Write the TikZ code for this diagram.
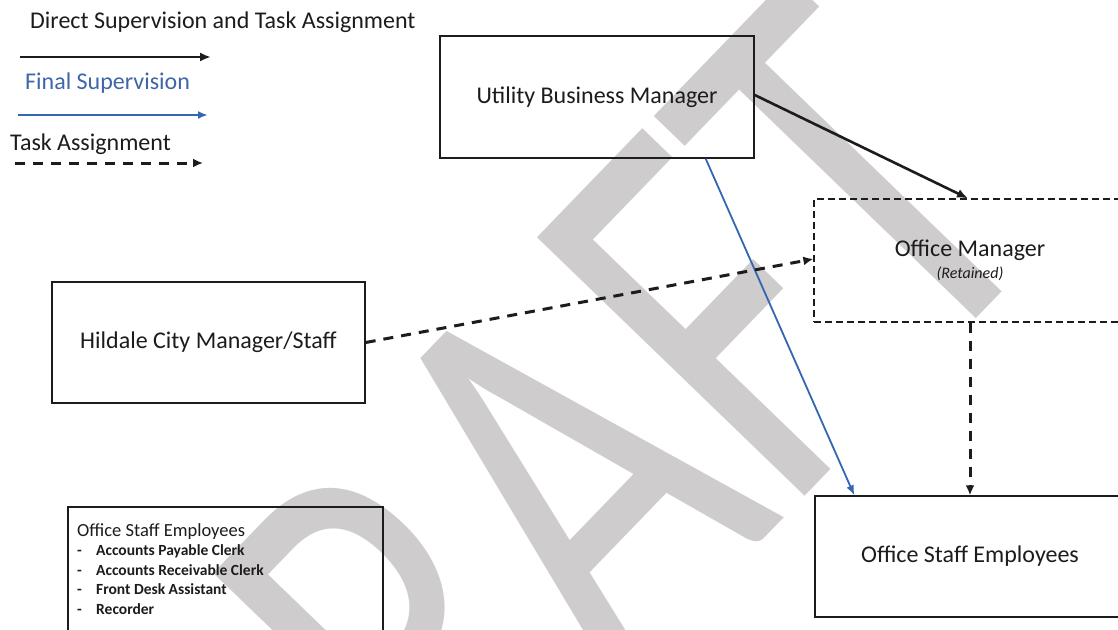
\documentclass[tikz,border=0pt]{standalone}
\usepackage{fontspec}
\setmainfont{Carlito}
\usetikzlibrary{arrows.meta}
\definecolor{ink}{RGB}{28,28,28}
\definecolor{wm}{RGB}{206,204,204}
\definecolor{bl}{RGB}{52,102,178}
\definecolor{bltext}{RGB}{62,102,168}
\begin{document}
\begin{tikzpicture}[x=1pt,y=-1pt,
  box/.style={draw=ink, line width=1.4pt, minimum width=314pt, minimum height=122pt,
    inner sep=0pt, font=\fontsize{24}{29}\selectfont, text=ink, align=center},
  dbox/.style={box, draw=ink, dash pattern=on 7pt off 4pt, line width=1.3pt},
  legtext/.style={anchor=west, inner sep=0pt, font=\fontsize{24}{29}\selectfont, text=ink},
  solidarrow/.style={draw=ink, line width=2.6pt, -{Latex[length=11pt,width=9pt]}},
  bluearrow/.style={draw=bl, line width=1.8pt, -{Latex[length=10pt,width=8pt]}},
  legblue/.style={bluearrow, line width=2.4pt},
  dasharrow/.style={draw=ink, line width=3pt, dash pattern=on 10pt off 8pt, -{Latex[length=10pt,width=9pt]}},
  watermark/.style={rotate=46, anchor=base, inner sep=0pt, text=wm, font=\fontsize{580}{580}\selectfont}]
\useasboundingbox (0,0) rectangle (1118,629);
\fill[white] (0,0) rectangle (1118,629);
% watermark
\node[watermark] (draft) at (671,635) {\scalebox{0.72}[1]{DRAFT}};
% legend
\node[legtext] (lg1) at (30,22) {Direct Supervision and Task Assignment};
\coordinate (l1s) at (20,57); \coordinate (l1e) at (211,57);
\draw[solidarrow] (l1s) -- (l1e);
\node[legtext, text=bltext] (lg2) at (25,83) {Final Supervision};
\coordinate (l2s) at (18,115); \coordinate (l2e) at (208,115);
\draw[legblue] (l2s) -- (l2e);
\node[legtext] (lg3) at (10,144) {Task Assignment};
\coordinate (l3s) at (15,163); \coordinate (l3e) at (203,163);
\draw[dasharrow] (l3s) -- (l3e);
% boxes
\node[box] (ubm) at (597,97) {Utility Business Manager};
\node[dbox, minimum width=312pt, minimum height=123pt, font=\fontsize{24}{22}\selectfont] (om) at (970,260.5)
  {Office Manager\\{\fontsize{16}{18}\selectfont\itshape (Retained)}};
\node[box, minimum width=313pt, minimum height=121pt] (hil) at (208.5,342.5) {Hildale City Manager/Staff};
\node[box, minimum width=310pt, minimum height=121pt] (ose) at (970,556.5) {Office Staff Employees};
\node[box, minimum width=315pt, minimum height=130pt] (lst) at (225.5,572) {};
\node[anchor=north west, inner sep=0pt, align=left, text=ink, font=\fontsize{18.5}{19.5}\selectfont] (lsttext) at (77,523)
  {Office Staff Employees\\
   {\fontsize{15.5}{19.5}\selectfont\bfseries\makebox[19pt][l]{-}Accounts Payable Clerk}\\
   {\fontsize{15.5}{19.5}\selectfont\bfseries\makebox[19pt][l]{-}Accounts Receivable Clerk}\\
   {\fontsize{15.5}{19.5}\selectfont\bfseries\makebox[19pt][l]{-}Front Desk Assistant}\\
   {\fontsize{15.5}{19.5}\selectfont\bfseries\makebox[19pt][l]{-}Recorder}};
% connectors
\draw[solidarrow] ([yshift=2pt]ubm.east) -- ([xshift=-2pt]om.north);
\draw[bluearrow] ([xshift=-49pt]ubm.south east) -- ([xshift=40pt]ose.north west);
\draw[dasharrow] (hil.east) -- ([yshift=1.5pt]om.west);
\draw[dasharrow] (om.south) -- (ose.north);
\end{tikzpicture}
\end{document}
